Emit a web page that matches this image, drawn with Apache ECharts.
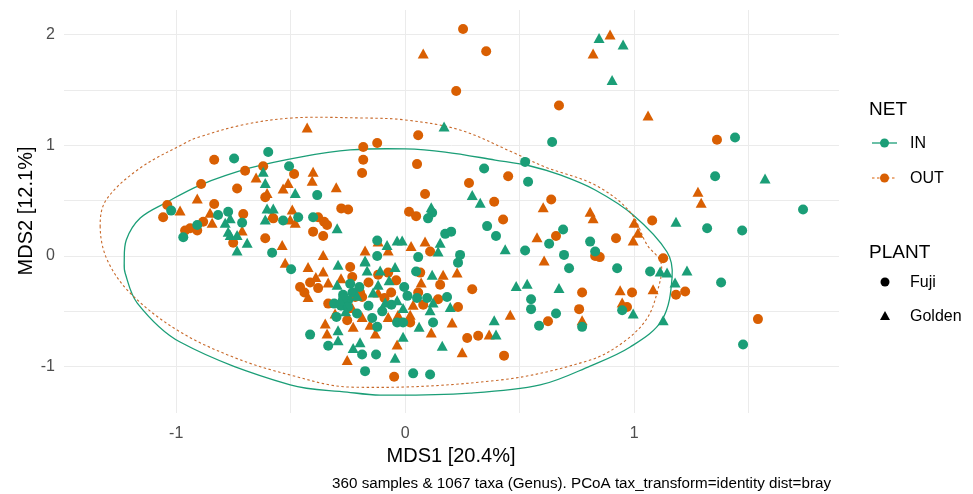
<!DOCTYPE html>
<html><head><meta charset="utf-8">
<script src="https://cdn.jsdelivr.net/npm/echarts@6/dist/echarts.min.js"></script>
<style>html,body{margin:0;padding:0;background:#fff}#c{width:973px;height:494px}</style>
</head><body><div id="c"></div>
<script>
// ---- data (MDS1, MDS2) ----
const inFuji = [
[0.642,1.03],[1.441,1.07],[1.354,0.72],[1.738,0.42],[1.319,0.25],[1.472,0.23],[0.808,0.13],[0.83,0.04],
[0.926,-0.11],[1.07,-0.14],[1.380,-0.24],[0.948,-0.49],[1.476,-0.80],[0.716,-0.11],[0.550,-0.39],[0.550,-0.48],
[0.659,-0.52],[0.585,-0.63],[0.773,-0.64],[0.109,-1.07],[0.035,-1.06],[-0.175,-1.04],[-0.127,-0.89],[-0.188,-0.89],
[0.122,-0.60],[0.183,-0.37],[0.231,-0.06],[0.048,-0.14],[-0.004,-0.28],[-0.249,-0.40],[-0.21,-0.52],[-0.144,-0.56],
[-0.122,-0.64],[-0.035,-0.60],[-0.009,-0.60],[0.052,-0.38],[0.096,-0.38],[-0.498,-0.12],[-0.271,-0.35],[-0.415,-0.71],
[-0.336,-0.81],[-0.747,0.88],[-0.598,0.94],[-0.507,0.81],[-0.384,0.55],[-1.022,0.41],[-0.817,0.37],[-0.773,0.40],
[-0.908,0.28],[-0.969,0.17],[-0.712,0.30],[-0.581,0.03],[-0.533,0.32],[-0.467,0.35],[-0.402,0.35],[0.118,0.39],
[0.100,0.34],[0.345,0.79],[0.524,0.85],[0.537,0.67],[0.358,0.27],[0.397,0.18],[0.690,0.24],[0.629,0.11],
[0.524,0.05],[0.694,0.01],[0.175,0.20],[0.201,0.22],[0.240,0.01],[0.057,-0.01],[-0.122,0.14],[-0.122,0.00],
[-0.28,-0.45],[-0.30,-0.55],[-0.24,-0.25],[-0.16,-0.45],[-0.10,-0.50],[-0.20,-0.28],
[-0.27,-0.38],[-0.25,-0.46],[-0.23,-0.33],[-0.31,-0.43],[-0.06,-0.44],[0.01,-0.36]
];
const inGolden = [
[0.847,1.97],[0.952,1.91],[0.904,1.59],[0.170,1.17],[1.572,0.70],[1.183,0.31],[1.114,-0.14],[1.144,-0.15],
[1.231,-0.13],[1.179,-0.24],[0.996,-0.52],[1.127,-0.58],[0.485,-0.27],[0.533,-0.25],[0.672,-0.29],[0.389,-0.58],
[0.397,-0.71],[0.162,-0.81],[0.061,-0.64],[-0.009,-0.73],[-0.044,-0.92],[-0.197,-0.78],[-0.227,-0.83],[0.197,-0.46],
[0.118,-0.17],[-0.044,-0.10],[-0.109,-0.13],[-0.166,-0.13],[-0.175,-0.05],[-0.118,-0.26],[-0.087,-0.42],[-0.035,-0.40],
[-0.009,-0.47],[0.109,-0.49],[0.122,-0.42],[-0.293,-0.08],[-0.297,-0.26],[-0.284,-0.40],[-0.293,-0.67],[-0.293,-0.76],
[-0.620,0.76],[-0.611,0.66],[-0.480,0.57],[-0.764,0.34],[-0.786,0.30],[-0.773,0.22],[-0.764,0.19],[-0.734,0.19],
[-0.690,0.12],[-0.734,0.05],[-0.603,0.43],[-0.576,0.43],[-0.611,0.33],[-0.297,0.25],[0.114,0.44],[0.293,0.55],
[0.328,0.48],[0.437,0.06],[0.153,0.12],[0.144,0.04],[-0.035,0.14],[-0.013,0.14],[-0.079,0.10],[-0.175,-0.04],
[-0.26,-0.50],[-0.21,-0.36],[-0.14,-0.33],[-0.07,-0.22]
];
const outFuji = [
[0.253,2.05],[0.354,1.85],[0.223,1.49],[0.672,1.36],[0.057,1.09],[-0.183,0.985],[-0.122,1.02],[1.362,1.05],
[1.079,0.32],[0.921,0.16],[1.127,-0.02],[0.83,0.00],[0.85,-0.01],[0.991,-0.33],[1.183,-0.35],[1.223,-0.32],
[0.969,-0.46],[1.541,-0.57],[0.773,-0.33],[0.760,-0.48],[0.624,-0.59],[0.293,-0.30],[0.319,-0.72],[0.271,-0.74],
[0.432,-0.90],[-0.048,-1.09],[0.231,-0.46],[0.144,-0.39],[0.153,-0.26],[0.066,-0.15],[-0.039,-0.22],[-0.24,-0.10],
[-0.231,-0.19],[-0.061,-0.33],[-0.197,-0.33],[-0.218,-0.37],[-0.188,-0.37],[-0.253,-0.58],[0.022,-0.60],[0.057,-0.33],
[0.079,-0.44],[-0.074,-0.15],[-0.118,-0.17],[-0.459,-0.28],[-0.415,-0.24],[-0.336,-0.43],[-0.834,0.87],[-0.620,0.81],
[-0.699,0.77],[-0.485,0.74],[-0.891,0.65],[-0.734,0.61],[-0.611,0.53],[-1.039,0.46],[-1.057,0.35],[-0.834,0.47],
[-0.707,0.38],[-0.882,0.31],[-0.939,0.25],[-0.961,0.23],[-0.908,0.23],[-0.751,0.12],[-0.611,0.16],[-0.576,0.34],
[-0.380,0.35],[-0.354,0.31],[-0.341,0.28],[-0.402,0.22],[-0.358,0.18],[-0.279,0.43],[-0.249,0.42],[-0.183,0.87],
[-0.188,0.75],[0.052,0.83],[0.087,0.56],[0.017,0.40],[0.048,0.36],[0.279,0.66],[0.450,0.72],[0.389,0.49],
[0.428,0.33],[0.638,0.51],[0.659,0.18],[0.109,0.04],
[-0.38,-0.29],[-0.44,-0.33],[-0.16,-0.24],[-0.09,-0.38]
];
const outGolden = [
[0.079,1.83],[-0.428,1.16],[0.895,2.00],[0.821,1.83],[1.061,1.27],[1.279,0.58],[1.293,0.48],[1.0,0.30],
[1.017,0.21],[0.996,0.14],[0.808,0.40],[0.821,0.34],[0.939,-0.31],[1.083,-0.30],[0.948,-0.42],[0.607,-0.04],
[0.773,-0.58],[0.459,-0.53],[0.367,-0.71],[0.249,-0.87],[0.205,-0.60],[0.114,-0.69],[-0.035,-0.80],[-0.253,-0.94],
[0.227,-0.15],[0.166,-0.17],[-0.118,-0.33],[-0.231,-0.47],[-0.188,-0.55],[-0.153,-0.62],[-0.227,-0.64],[-0.074,-0.55],
[-0.031,-0.53],[0.022,-0.53],[0.035,-0.44],[-0.524,-0.06],[-0.424,-0.10],[-0.358,-0.14],[-0.424,-0.37],[-0.336,-0.24],
[-0.306,-0.52],[-0.349,-0.61],[-0.341,-0.70],[-0.651,0.71],[-0.402,0.76],[-0.406,0.68],[-0.301,0.62],[-0.533,0.61],
[-0.511,0.66],[-0.603,0.57],[-0.908,0.52],[-0.983,0.41],[-0.852,0.39],[-0.843,0.30],[-0.712,0.23],[-0.537,0.10],
[-0.581,0.37],[-0.493,0.42],[-0.502,0.33],[-0.480,0.30],[-0.358,0.01],[0.603,0.44],[0.576,0.17],[0.087,0.13],
[0.026,0.09],[-0.118,0.13],[-0.074,0.05],[-0.175,0.05],
[-0.39,-0.19],[-0.28,-0.20],[-0.13,-0.70],[0.07,-0.24]
];
// ellipse outlines (stat_ellipse)
const inEllipse = [
[-1.227,-0.063],[-1.218,0.145],[-1.157,0.343],[-1.039,0.488],[-0.895,0.641],[-0.677,0.795],[-0.459,0.894],[-0.240,0.958],
[0,0.967],[0.175,0.939],[0.393,0.867],[0.546,0.813],[0.677,0.732],[0.830,0.596],[0.996,0.370],[1.144,0.036],
[1.166,-0.190],[1.122,-0.578],[0.983,-0.822],[0.808,-0.994],[0.590,-1.165],[0.284,-1.238],[-0.109,-1.256],[-0.253,-1.229],
[-0.502,-1.165],[-0.983,-0.777],[-1.170,-0.425],[-1.223,-0.154]
];
const outEllipse = [
[-1.332,0.262],[-1.306,0.506],[-1.157,0.795],[-0.961,1.02],[-0.913,1.066],[-0.712,1.183],[-0.493,1.247],[-0.201,1.247],
[0,1.229],[0.240,1.138],[0.467,0.939],[0.611,0.804],[0.830,0.641],[0.983,0.397],[1.057,0.099],[1.118,-0.063],
[1.100,-0.334],[1.052,-0.578],[0.948,-0.786],[0.808,-0.940],[0.415,-1.120],[-0.240,-1.184],[-0.502,-1.075],[-0.751,-0.913],
[-0.996,-0.669],[-1.201,-0.334],[-1.301,-0.036]
];
const xTitle = 'MDS1 [20.4%]';
const yTitle = 'MDS2 [12.1%]';
const caption = '360 samples & 1067 taxa (Genus). PCoA tax_transform=identity dist=bray';
const netLevels = ['IN','OUT'];
const plantLevels = ['Fuji','Golden'];

const TEAL = '#1b9e77', ORANGE = '#d95f02';
const FONT = "'Liberation Sans', Arial, sans-serif";
const chart = echarts.init(document.getElementById('c'), null, {renderer:'canvas'});

function ellipseSeries(pts, color, dash, width){
  return {
    type:'custom', coordinateSystem:'cartesian2d', silent:true, z:1, clip:false,
    data: pts,
    renderItem:(params, api) => {
      if (params.dataIndex !== 0) return null;
      return { type:'polygon',
        shape:{ points: pts.map(p => api.coord(p)), smooth:0.35 },
        style:{ fill:null, stroke:color, lineWidth:width, lineDash:dash } };
    }
  };
}
function pointSeries(data, color, symbol, size){
  return { type:'scatter', data, symbol, symbolSize:size, z:3,
    itemStyle:{ color, opacity:1 }, emphasis:{disabled:true} };
}
const intLabel = v => (Math.abs(v - Math.round(v)) < 1e-9 ? String(Math.round(v)) : '');
const gridLine = { show:true, showMinLine:false, showMaxLine:false, lineStyle:{ color:'#ebebeb', width:1 } };

chart.setOption({
  animation:false,
  backgroundColor:'#fff',
  grid:{ left:64, right:134, top:10, bottom:81, containLabel:false },
  xAxis:{ type:'value', min:-1.49, max:1.895, splitNumber:7,
    axisLine:{show:false}, axisTick:{show:false},
    axisLabel:{ formatter:intLabel, color:'#4d4d4d', fontSize:16, fontFamily:FONT, margin:13, showMinLabel:false, showMaxLabel:false },
    splitLine:gridLine },
  yAxis:{ type:'value', min:-1.418, max:2.222, splitNumber:7,
    axisLine:{show:false}, axisTick:{show:false},
    axisLabel:{ formatter:intLabel, color:'#4d4d4d', fontSize:16, fontFamily:FONT, margin:9, showMinLabel:false, showMaxLabel:false },
    splitLine:gridLine },
  series:[
    ellipseSeries(inEllipse, TEAL, null, 1.3),
    ellipseSeries(outEllipse, '#c8692a', [2.5,2.5], 1.1),
    pointSeries(outFuji, ORANGE, 'circle', 10),
    pointSeries(outGolden, ORANGE, 'triangle', [11,10]),
    pointSeries(inFuji, TEAL, 'circle', 10),
    pointSeries(inGolden, TEAL, 'triangle', [11,10])
  ],
  graphic:[
    { type:'text', x:451, y:456, style:{ text:xTitle, font:'20px '+FONT, fill:'#000', align:'center', verticalAlign:'middle' } },
    { type:'text', x:26, y:211, rotation:Math.PI/2, style:{ text:yTitle, font:'20px '+FONT, fill:'#000', align:'center', verticalAlign:'middle' } },
    { type:'text', x:831, y:484, style:{ text:caption, font:'15.2px '+FONT, fill:'#000', align:'right', verticalAlign:'middle' } },
    // legend NET
    { type:'text', x:869, y:110, style:{ text:'NET', font:'19px '+FONT, fill:'#000', verticalAlign:'middle' } },
    { type:'line', shape:{x1:872,y1:143,x2:897,y2:143}, style:{ stroke:TEAL, lineWidth:1.3 } },
    { type:'circle', shape:{cx:884.5,cy:143,r:4.5}, style:{ fill:TEAL } },
    { type:'text', x:910, y:144, style:{ text:netLevels[0], font:'16px '+FONT, fill:'#000', verticalAlign:'middle' } },
    { type:'line', shape:{x1:872,y1:178,x2:897,y2:178}, style:{ stroke:ORANGE, lineWidth:1.1, lineDash:[2.5,2.5] } },
    { type:'circle', shape:{cx:884.5,cy:178,r:4.5}, style:{ fill:ORANGE } },
    { type:'text', x:910, y:179, style:{ text:netLevels[1], font:'16px '+FONT, fill:'#000', verticalAlign:'middle' } },
    // legend PLANT
    { type:'text', x:869, y:253, style:{ text:'PLANT', font:'19px '+FONT, fill:'#000', verticalAlign:'middle' } },
    { type:'circle', shape:{cx:885,cy:282,r:4.5}, style:{ fill:'#000' } },
    { type:'text', x:910, y:283, style:{ text:plantLevels[0], font:'16px '+FONT, fill:'#000', verticalAlign:'middle' } },
    { type:'polygon', shape:{points:[[880,320],[890,320],[885,311]]}, style:{ fill:'#000' } },
    { type:'text', x:910, y:317, style:{ text:plantLevels[1], font:'16px '+FONT, fill:'#000', verticalAlign:'middle' } }
  ]
});
</script></body></html>
